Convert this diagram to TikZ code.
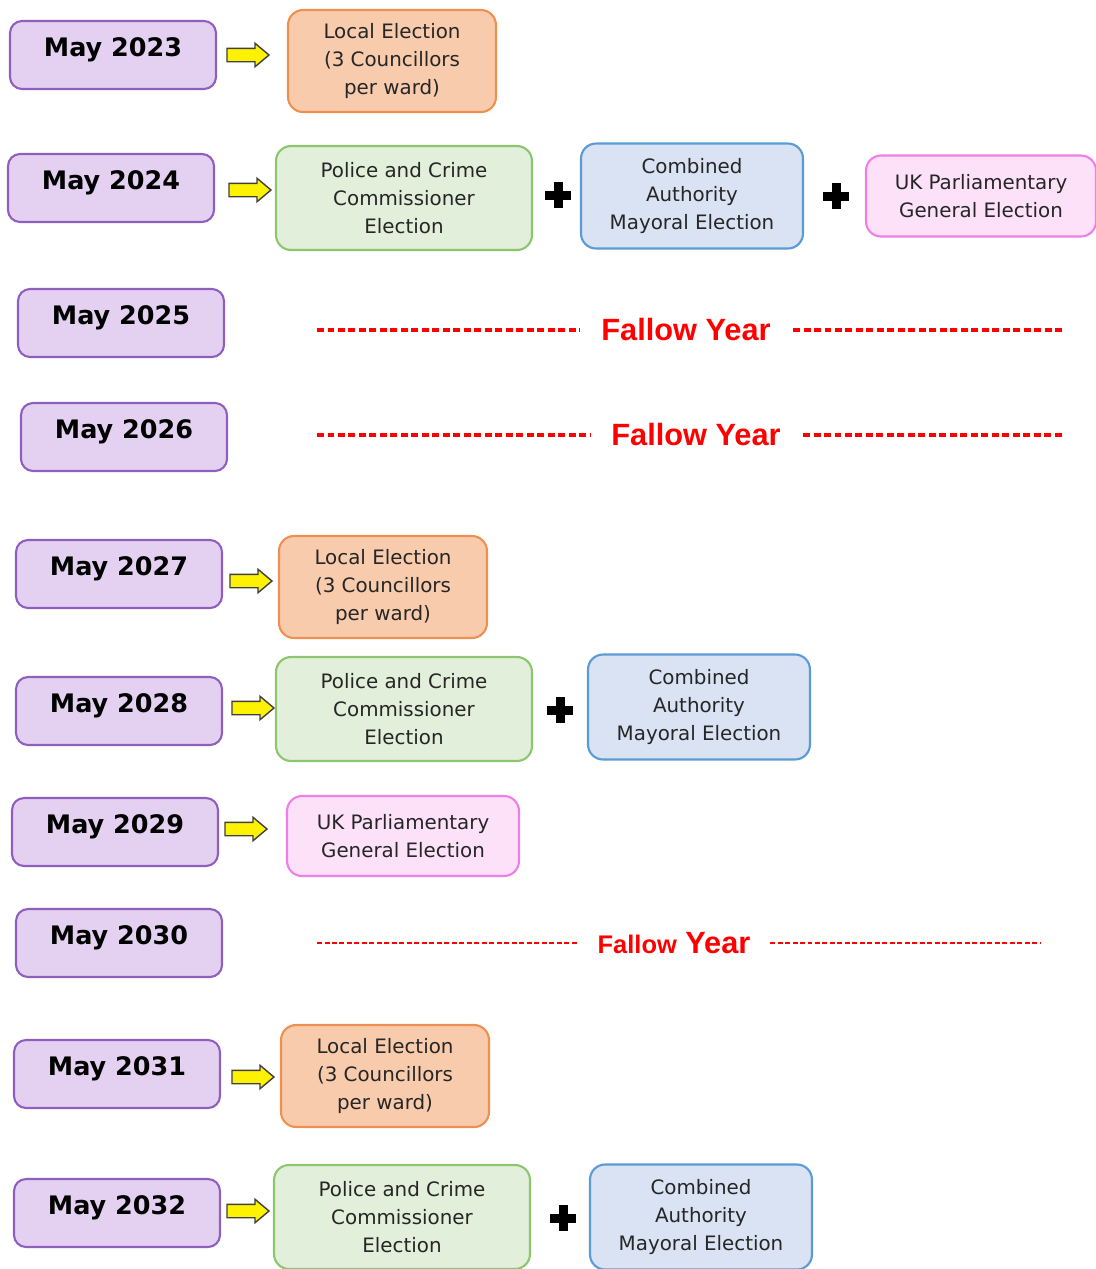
\documentclass[tikz,border=0pt]{standalone}
\usepackage{fontspec}
\setmainfont{DejaVu Sans}
\newfontfamily\fallowfont{Liberation Sans}
\usetikzlibrary{shapes.arrows}
\definecolor{yearfill}{HTML}{E4D1F2}
\definecolor{yearline}{HTML}{8F5FBF}
\definecolor{localfill}{HTML}{F8CBAD}
\definecolor{localline}{HTML}{F09050}
\definecolor{pccfill}{HTML}{E2EFDA}
\definecolor{pccline}{HTML}{8CC66E}
\definecolor{cafill}{HTML}{DAE3F3}
\definecolor{caline}{HTML}{5B9BD5}
\definecolor{ukfill}{HTML}{FCE1F8}
\definecolor{ukline}{HTML}{F07EE8}
\definecolor{fallowred}{HTML}{FF0000}

\begin{document}
\begin{tikzpicture}[x=0.02cm, y=-0.02cm,
    year/.style = {draw=yearline, fill=yearfill, line width=1.2pt, rounded corners=0.24cm,
        minimum width=4.12cm, minimum height=1.36cm, inner sep=0pt,
        font=\bfseries\fontsize{14.5}{17}\selectfont, text height=0.4cm, text depth=0.35cm},
    box/.style = {line width=1.2pt, rounded corners=0.3cm, align=center, inner sep=0pt,
        font=\fontsize{11.3}{15.8}\selectfont, text=black!85},
    local/.style = {box, draw=localline, fill=localfill, minimum width=4.16cm, minimum height=2.04cm},
    pcc/.style = {box, draw=pccline, fill=pccfill, minimum width=5.12cm, minimum height=2.08cm},
    ca/.style = {box, draw=caline, fill=cafill, minimum width=4.44cm, minimum height=2.1cm},
    uk/.style = {box, draw=ukline, fill=ukfill, minimum width=4.6cm, minimum height=1.62cm},
    go/.style = {single arrow, draw=black!75, fill=yellow, line width=0.8pt, inner sep=0.12cm,
        minimum height=0.84cm, single arrow head extend=0.1cm, single arrow tip angle=80},
    plus/.style = {minimum size=0.52cm, inner sep=0pt, path picture={
        \fill ([xshift=-0.26cm, yshift=-0.09cm]path picture bounding box.center)
            rectangle ([xshift=0.26cm, yshift=0.09cm]path picture bounding box.center);
        \fill ([xshift=-0.09cm, yshift=-0.26cm]path picture bounding box.center)
            rectangle ([xshift=0.09cm, yshift=0.26cm]path picture bounding box.center);}},
    fallow/.style = {text=fallowred, font=\fallowfont\bfseries\fontsize{17.5}{20}\selectfont},
    fallowdash/.style = {draw=fallowred, line width=1.8pt, dash pattern=on 0.14cm off 0.07cm}
    ]
    \useasboundingbox (0,0) rectangle (1096,1269);

    \node at (113,55) [year] (y23) {May 2023};
    \node at (244,55) [go] (a23) {};
    \node at (392,61) [local] (l23) {Local Election\\(3 Councillors\\per ward)};

    \node at (111,188) [year] (y24) {May 2024};
    \node at (246,190) [go] (a24) {};
    \node at (404,198) [pcc] (p24) {Police and Crime\\Commissioner\\Election};
    \node at (558,195) [plus] (s24a) {};
    \node at (692,196) [ca] (c24) {Combined\\Authority\\Mayoral Election};
    \node at (836,196) [plus] (s24b) {};
    \node at (981,196) [uk] (u24) {UK Parliamentary\\General Election};

    \node at (121,323) [year] (y25) {May 2025};
    \node at (686,330) [fallow] (f25) {Fallow Year};
    \draw[fallowdash] (317,330) -- (580,330);
    \draw[fallowdash] (793,330) -- (1064,330);

    \node at (124,437) [year] (y26) {May 2026};
    \node at (696,435) [fallow] (f26) {Fallow Year};
    \draw[fallowdash] (317,435) -- (590,435);
    \draw[fallowdash] (803,435) -- (1064,435);

    \node at (119,574) [year] (y27) {May 2027};
    \node at (247,581) [go] (a27) {};
    \node at (383,587) [local] (l27) {Local Election\\(3 Councillors\\per ward)};

    \node at (119,711) [year] (y28) {May 2028};
    \node at (249,708) [go] (a28) {};
    \node at (404,709) [pcc] (p28) {Police and Crime\\Commissioner\\Election};
    \node at (560,710) [plus] (s28) {};
    \node at (699,707) [ca] (c28) {Combined\\Authority\\Mayoral Election};

    \node at (115,832) [year] (y29) {May 2029};
    \node at (242,829) [go] (a29) {};
    \node at (403,836) [uk, minimum width=4.64cm, minimum height=1.6cm] (u29) {UK Parliamentary\\General Election};

    \node at (119,943) [year] (y30) {May 2030};
    \node at (674,943) [fallow] (f30) {{\fontsize{14.5}{16}\selectfont Fallow} Year};
    \draw[fallowdash, line width=1.1pt, dash pattern=on 0.1cm off 0.05cm] (317,943) -- (578,943);
    \draw[fallowdash, line width=1.1pt, dash pattern=on 0.1cm off 0.05cm] (770,943) -- (1040,943);

    \node at (117,1074) [year] (y31) {May 2031};
    \node at (249,1077) [go] (a31) {};
    \node at (385,1076) [local] (l31) {Local Election\\(3 Councillors\\per ward)};

    \node at (117,1213) [year] (y32) {May 2032};
    \node at (244,1211) [go] (a32) {};
    \node at (402,1217) [pcc] (p32) {Police and Crime\\Commissioner\\Election};
    \node at (563,1218) [plus] (s32) {};
    \node at (701,1217) [ca] (c32) {Combined\\Authority\\Mayoral Election};

\end{tikzpicture}
\end{document}
